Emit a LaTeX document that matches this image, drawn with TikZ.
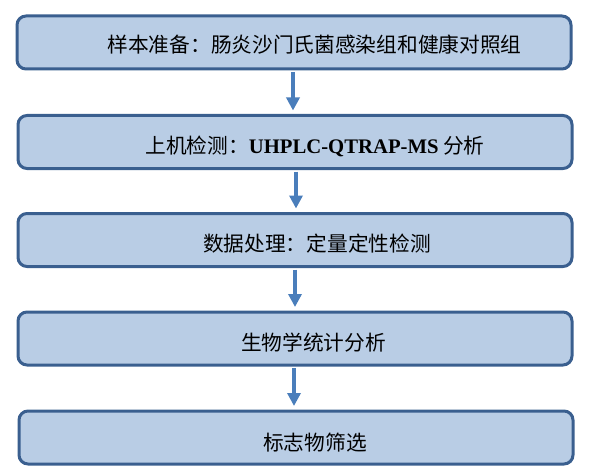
\documentclass[tikz,border=0pt]{standalone}
\usepackage{fontspec}
\setmainfont{Liberation Serif}
\newfontfamily\cjk{Noto Sans CJK SC}
\usetikzlibrary{arrows.meta,calc}
\definecolor{boxfill}{HTML}{B9CDE5}
\definecolor{boxdraw}{HTML}{3A5F8F}
\definecolor{arrowc}{HTML}{4A7EBB}
\tikzset{
  stepbox/.style={draw=boxdraw, fill=boxfill, line width=3pt, rounded corners=9pt,
    minimum width=554pt, minimum height=53pt, inner sep=0pt},
  steptext/.style={font=\fontsize{20.7pt}{23pt}\selectfont\cjk, inner sep=0pt, text=black},
  flow/.style={draw=arrowc, line width=3.5pt, -{Triangle[width=13pt,length=13pt]}, shorten >=2pt}
}
\begin{document}
\begin{tikzpicture}[x=1pt,y=-1pt]
\useasboundingbox (0,0) rectangle (596,473);
\node[stepbox] (b1) at (294,42.5) {};
\node[stepbox] (b2) at (295,142) {};
\node[stepbox] (b3) at (295,240) {};
\node[stepbox] (b4) at (295,338.5) {};
\node[stepbox] (b5) at (296,437.5) {};
\node[steptext] (t1) at (314.5,45) {样本准备：肠炎沙门氏菌感染组和健康对照组};
\node[steptext] (t2) at (315,146) {上机检测：{\fontspec{Liberation Serif}\bfseries UHPLC-QTRAP-MS} 分析};
\node[steptext] (t3) at (317,243.5) {数据处理：定量定性检测};
\node[steptext] (t4) at (313.5,343) {生物学统计分析};
\node[steptext] (t5) at (315,443) {标志物筛选};
\draw[flow] ($(b1.south)+(-1,1.5)$) -- ($(b2.north)+(-2,-1.5)$);
\draw[flow] ($(b2.south)+(1,1.5)$) -- ($(b3.north)+(1,-1.5)$);
\draw[flow] ($(b3.south)+(0,1.5)$) -- ($(b4.north)+(0,-1.5)$);
\draw[flow] ($(b4.south)+(-1,1.5)$) -- ($(b5.north)+(-2,-1.5)$);
\end{tikzpicture}
\end{document}
